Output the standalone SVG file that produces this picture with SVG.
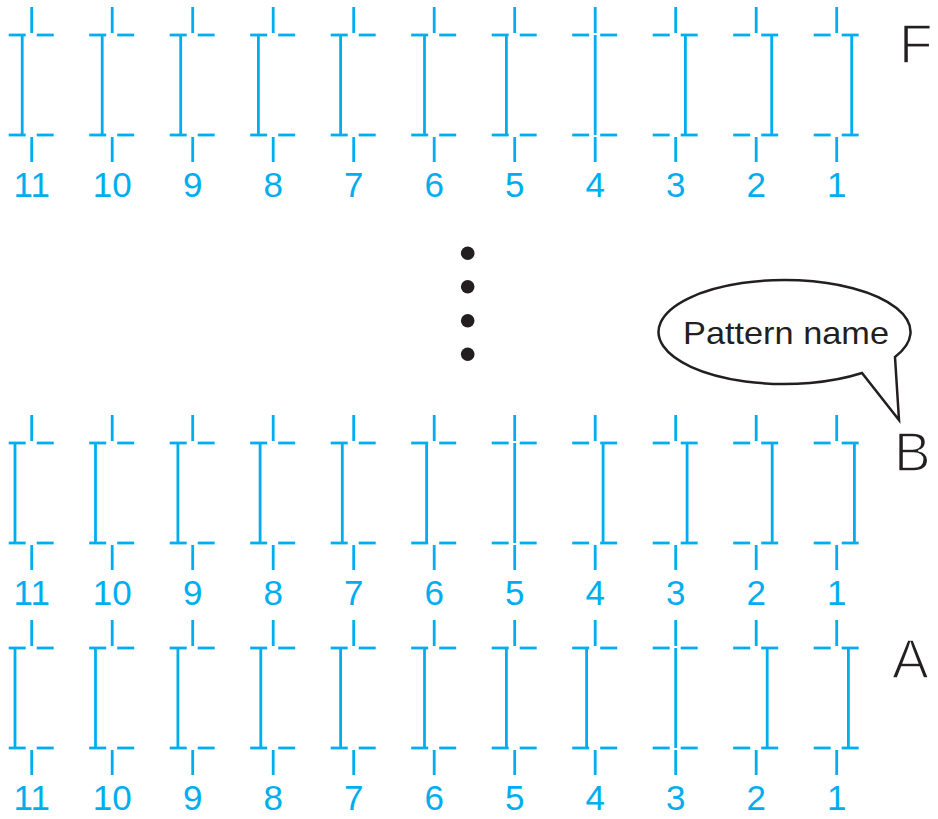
<svg xmlns="http://www.w3.org/2000/svg" xmlns:xlink="http://www.w3.org/1999/xlink" width="938" height="819" viewBox="0 0 938 819">
<style>
.c{stroke:#00AEEF;stroke-width:2.8;fill:none}
.n{fill:#00AEEF;font-family:"Liberation Sans",Arial,sans-serif;font-size:35px;text-anchor:middle}
.L{fill:#231F20;stroke:#fff;stroke-width:1.6;font-family:"Liberation Sans",Arial,sans-serif;font-size:55px}
.t{fill:#231F20;font-family:"Liberation Sans",Arial,sans-serif;font-size:32px}
</style>
<defs>
<g id="base" class="c">
<line x1="0" y1="-28" x2="0" y2="-2"/>
<line x1="-23" y1="0" x2="-6" y2="0"/>
<line x1="5" y1="0" x2="22" y2="0"/>
<line x1="-23" y1="100" x2="-6" y2="100"/>
<line x1="5" y1="100" x2="22" y2="100"/>
<line x1="0" y1="102" x2="0" y2="127"/>
</g>
<g id="bar" class="c"><line x1="0" y1="0" x2="0" y2="100"/></g>
</defs>
<g id="rowF">
<g id="F11"><use href="#base" x="31.7" y="35"/><use href="#bar" x="22.2" y="35"/><text class="n" x="31.7" y="197">11</text></g>
<g id="F10"><use href="#base" x="112.2" y="35"/><use href="#bar" x="102.2" y="35"/><text class="n" x="112.2" y="197">10</text></g>
<g id="F9"><use href="#base" x="192.7" y="35"/><use href="#bar" x="180.7" y="35"/><text class="n" x="192.7" y="197">9</text></g>
<g id="F8"><use href="#base" x="273.2" y="35"/><use href="#bar" x="258.4" y="35"/><text class="n" x="273.2" y="197">8</text></g>
<g id="F7"><use href="#base" x="353.7" y="35"/><use href="#bar" x="340.6" y="35"/><text class="n" x="353.7" y="197">7</text></g>
<g id="F6"><use href="#base" x="434.2" y="35"/><use href="#bar" x="424.5" y="35"/><text class="n" x="434.2" y="197">6</text></g>
<g id="F5"><use href="#base" x="514.7" y="35"/><use href="#bar" x="506.4" y="35"/><text class="n" x="514.7" y="197">5</text></g>
<g id="F4"><use href="#base" x="595.2" y="35"/><use href="#bar" x="595.2" y="35"/><text class="n" x="595.2" y="197">4</text></g>
<g id="F3"><use href="#base" x="675.7" y="35"/><use href="#bar" x="685.4" y="35"/><text class="n" x="675.7" y="197">3</text></g>
<g id="F2"><use href="#base" x="756.2" y="35"/><use href="#bar" x="771.7" y="35"/><text class="n" x="756.2" y="197">2</text></g>
<g id="F1"><use href="#base" x="836.7" y="35"/><use href="#bar" x="851.7" y="35"/><text class="n" x="836.7" y="197">1</text></g>
<text class="L" x="899" y="62.7">F</text>
</g>
<g id="ellipsis" fill="#231F20">
<circle cx="467.7" cy="253.3" r="6.8"/>
<circle cx="467.7" cy="286.7" r="6.8"/>
<circle cx="467.7" cy="320.7" r="6.8"/>
<circle cx="467.7" cy="354.3" r="6.8"/>
</g>
<g id="rowB">
<g id="B11"><use href="#base" x="31.7" y="443"/><use href="#bar" x="15" y="443"/><text class="n" x="31.7" y="605">11</text></g>
<g id="B10"><use href="#base" x="112.2" y="443"/><use href="#bar" x="95.5" y="443"/><text class="n" x="112.2" y="605">10</text></g>
<g id="B9"><use href="#base" x="192.7" y="443"/><use href="#bar" x="177.9" y="443"/><text class="n" x="192.7" y="605">9</text></g>
<g id="B8"><use href="#base" x="273.2" y="443"/><use href="#bar" x="260.1" y="443"/><text class="n" x="273.2" y="605">8</text></g>
<g id="B7"><use href="#base" x="353.7" y="443"/><use href="#bar" x="342.3" y="443"/><text class="n" x="353.7" y="605">7</text></g>
<g id="B6"><use href="#base" x="434.2" y="443"/><use href="#bar" x="426.6" y="443"/><text class="n" x="434.2" y="605">6</text></g>
<g id="B5"><use href="#base" x="514.7" y="443"/><use href="#bar" x="514.7" y="443"/><text class="n" x="514.7" y="605">5</text></g>
<g id="B4"><use href="#base" x="595.2" y="443"/><use href="#bar" x="603.1" y="443"/><text class="n" x="595.2" y="605">4</text></g>
<g id="B3"><use href="#base" x="675.7" y="443"/><use href="#bar" x="687.1" y="443"/><text class="n" x="675.7" y="605">3</text></g>
<g id="B2"><use href="#base" x="756.2" y="443"/><use href="#bar" x="772.2" y="443"/><text class="n" x="756.2" y="605">2</text></g>
<g id="B1"><use href="#base" x="836.7" y="443"/><use href="#bar" x="854.4" y="443"/><text class="n" x="836.7" y="605">1</text></g>
<text class="L" x="894" y="471">B</text>
</g>
<g id="rowA">
<g id="A11"><use href="#base" x="31.7" y="648"/><use href="#bar" x="15" y="648"/><text class="n" x="31.7" y="810">11</text></g>
<g id="A10"><use href="#base" x="112.2" y="648"/><use href="#bar" x="95.5" y="648"/><text class="n" x="112.2" y="810">10</text></g>
<g id="A9"><use href="#base" x="192.7" y="648"/><use href="#bar" x="177.9" y="648"/><text class="n" x="192.7" y="810">9</text></g>
<g id="A8"><use href="#base" x="273.2" y="648"/><use href="#bar" x="260.8" y="648"/><text class="n" x="273.2" y="810">8</text></g>
<g id="A7"><use href="#base" x="353.7" y="648"/><use href="#bar" x="340.6" y="648"/><text class="n" x="353.7" y="810">7</text></g>
<g id="A6"><use href="#base" x="434.2" y="648"/><use href="#bar" x="424.5" y="648"/><text class="n" x="434.2" y="810">6</text></g>
<g id="A5"><use href="#base" x="514.7" y="648"/><use href="#bar" x="506.4" y="648"/><text class="n" x="514.7" y="810">5</text></g>
<g id="A4"><use href="#base" x="595.2" y="648"/><use href="#bar" x="586.6" y="648"/><text class="n" x="595.2" y="810">4</text></g>
<g id="A3"><use href="#base" x="675.7" y="648"/><use href="#bar" x="675.7" y="648"/><text class="n" x="675.7" y="810">3</text></g>
<g id="A2"><use href="#base" x="756.2" y="648"/><use href="#bar" x="767.2" y="648"/><text class="n" x="756.2" y="810">2</text></g>
<g id="A1"><use href="#base" x="836.7" y="648"/><use href="#bar" x="848.4" y="648"/><text class="n" x="836.7" y="810">1</text></g>
<text class="L" x="892" y="678.3">A</text>
</g>
<g id="callout">
<path d="M862,373 A126 52 0 1 1 895,357 L899,420 Z" fill="#fff" stroke="#231F20" stroke-width="2.5" stroke-linejoin="miter"/>
<text class="t" x="683" y="344" textLength="206" lengthAdjust="spacingAndGlyphs">Pattern name</text>
</g>
</svg>
